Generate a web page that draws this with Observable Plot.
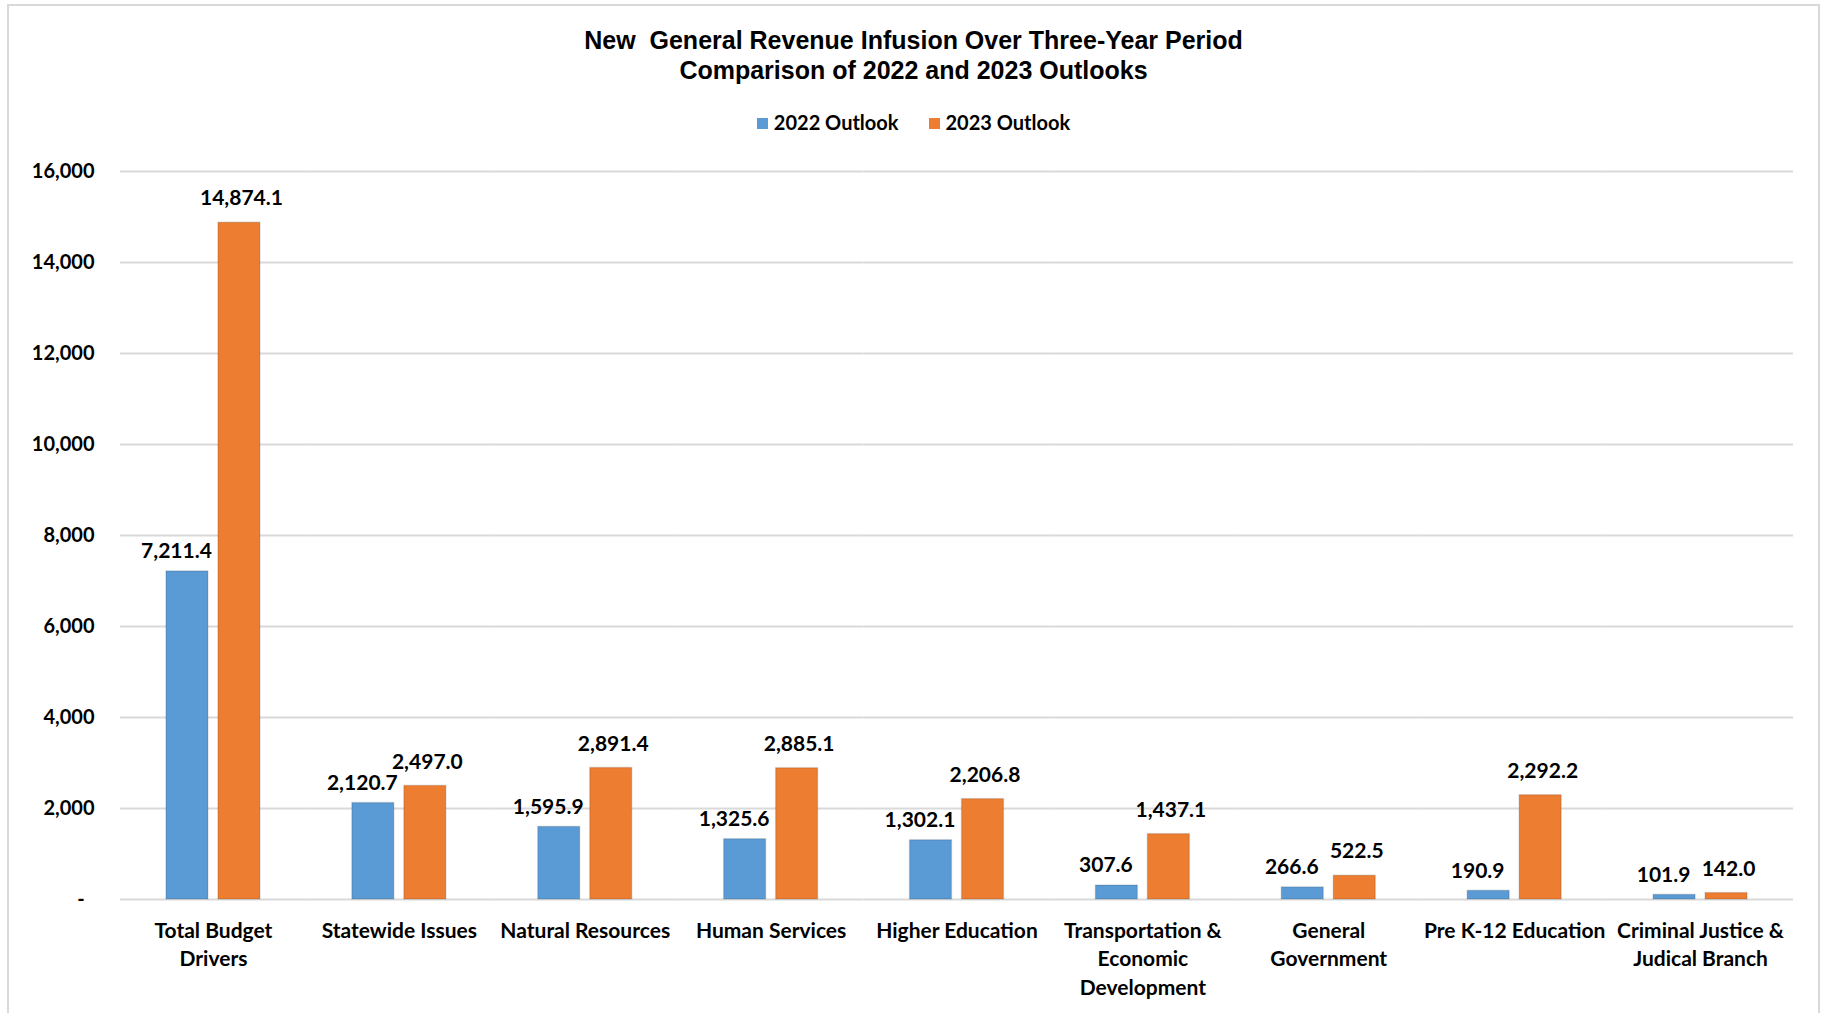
<!DOCTYPE html>
<html><head><meta charset="utf-8">
<script src="https://cdn.jsdelivr.net/npm/d3@7"></script>
<script src="https://cdn.jsdelivr.net/npm/@observablehq/plot@0.6"></script>
<style>
html,body{margin:0;padding:0;background:#fff;width:1822px;height:1013px;overflow:hidden;}
#frame{position:absolute;left:7px;top:4px;width:1813px;height:1030px;border:2px solid #d9d9d9;box-sizing:border-box;}
#title{position:absolute;left:7px;width:1813px;top:25px;text-align:center;font-family:"Liberation Sans",Arial,sans-serif;font-weight:bold;font-size:25px;line-height:30px;color:#000;}
#legend{position:absolute;top:110px;left:7px;width:1813px;text-align:center;font-family:Lato,sans-serif;font-weight:bold;font-size:20px;line-height:24px;color:#000;}
.sw{display:inline-block;width:11px;height:11px;margin-right:6px;vertical-align:1px;}
.item{display:inline-block;margin:0 15px;}
#chart{position:absolute;left:0;top:140px;}
</style></head>
<body>
<div id="frame"></div>
<div id="title">New&nbsp; General Revenue Infusion Over Three-Year Period<br>Comparison of 2022 and 2023 Outlooks</div>
<div id="legend"></div>
<div id="chart"></div>
<script>
const categories = ["Total Budget Drivers","Statewide Issues","Natural Resources","Human Services","Higher Education","Transportation & Economic Development","General Government","Pre K-12 Education","Criminal Justice & Judical Branch"];
const categoryLabels = ["Total Budget\nDrivers","Statewide Issues","Natural Resources","Human Services","Higher Education","Transportation &\nEconomic\nDevelopment","General\nGovernment","Pre K-12 Education","Criminal Justice &\nJudical Branch"];
const series = ["2022 Outlook","2023 Outlook"];
const seriesColors = ["#5B9BD5","#ED7D31"];
const values2022 = [7211.4,2120.7,1595.9,1325.6,1302.1,307.6,266.6,190.9,101.9];
const values2023 = [14874.1,2497.0,2891.4,2885.1,2206.8,1437.1,522.5,2292.2,142.0];
const yTicks = [0,2000,4000,6000,8000,10000,12000,14000,16000];

const data = categories.flatMap((c,i)=>[
  {category:c, series:series[0], value:values2022[i]},
  {category:c, series:series[1], value:values2023[i]}
]);

// legend
const lg = document.getElementById("legend");
series.forEach((s,i)=>{
  const it = document.createElement("span"); it.className="item";
  const sw = document.createElement("span"); sw.className="sw"; sw.style.background=seriesColors[i];
  it.appendChild(sw); it.appendChild(document.createTextNode(s)); lg.appendChild(it);
});

const fmt = d3.format(",.1f");
const chart = Plot.plot({
  width:1822, height:873,
  marginLeft:120, marginRight:29, marginTop:31, marginBottom:114,
  style:{fontFamily:"Lato, sans-serif", fontWeight:"bold", fontSize:"20px", color:"#000", background:"transparent", overflow:"visible"},
  fx:{domain:categories, padding:0, round:false, axis:null},
  x:{domain:series, axis:null, round:false, paddingInner:0.1923, paddingOuter:0.8837},
  y:{domain:[0,16000], axis:null},
  color:{domain:series, range:seriesColors},
  marks:[
    Plot.gridY(yTicks,{stroke:"#d9d9d9", strokeWidth:2, strokeOpacity:1}),
    Plot.axisY(yTicks,{tickSize:0, tickPadding:26, label:null, fill:"#000", fontSize:20, tickFormat:d=>d===0?"-  ":d3.format(",")(d)}),
    Plot.axisFx({anchor:"bottom", tickSize:0, tickPadding:18, label:null, lineHeight:1.36, fontSize:21, fill:"#000", tickFormat:c=>categoryLabels[categories.indexOf(c)]}),
    Plot.barY(data,{fx:"category", x:"series", y:"value", fill:"series", stroke:"#000", strokeOpacity:0.12, strokeWidth:1.5}),
    Plot.text(data.filter(d=>d.series===series[0]),{fx:"category", x:"series", y:"value", text:d=>fmt(d.value), dy:-20, dx:-11, fontSize:21, fill:"#000"}),
    Plot.text(data.filter(d=>d.series===series[1]),{fx:"category", x:"series", y:"value", text:d=>fmt(d.value), dy:-24, dx:2, fontSize:21, fill:"#000"})
  ]
});
document.getElementById("chart").appendChild(chart);
</script>
</body></html>
